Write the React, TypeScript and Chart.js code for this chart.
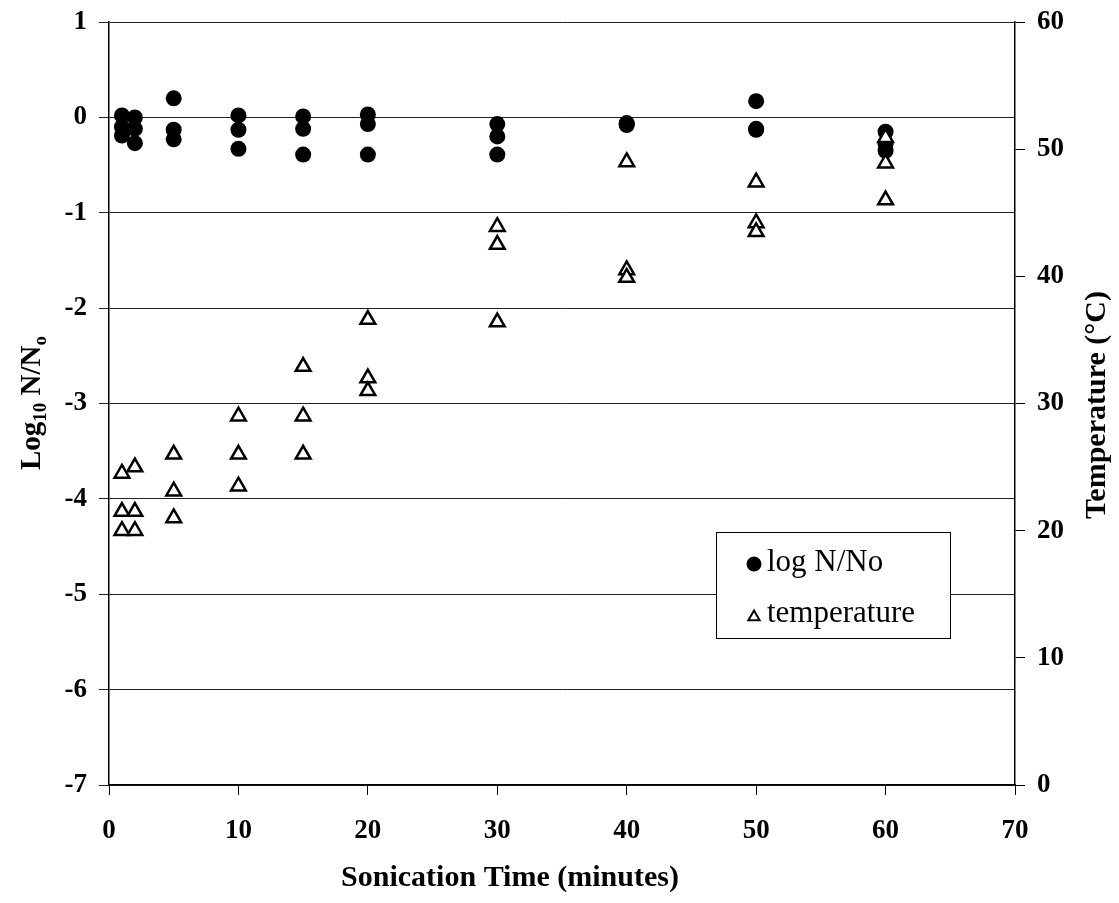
import React, { useEffect, useRef } from "react";
import { Chart, registerables } from "chart.js";

Chart.register(...registerables);

const times = [1, 2, 5, 10, 15, 20, 30, 40, 50, 60];
const logRep1 = [0.02, 0.0, 0.2, 0.02, 0.01, 0.03, -0.07, -0.06, 0.17, -0.15];
const logRep2 = [-0.1, -0.12, -0.13, -0.13, -0.12, -0.07, -0.2, -0.07, -0.12, -0.28];
const logRep3 = [-0.19, -0.27, -0.23, -0.33, -0.39, -0.39, -0.39, -0.08, -0.13, -0.35];
const tempRep1 = [24.5, 25.0, 26.0, 29.0, 32.9, 36.6, 43.9, 49.0, 47.4, 50.9];
const tempRep2 = [21.5, 21.5, 23.1, 26.0, 29.0, 32.0, 42.5, 40.5, 44.2, 48.9];
const tempRep3 = [20.0, 20.0, 21.0, 23.5, 26.0, 31.0, 36.4, 39.9, 43.5, 46.0];

const xTitle = "Sonication Time (minutes)";
const rightTitle = "Temperature (°C)";
const legendLabels = ["log N/No", "temperature"];

const SERIF = '"Liberation Serif", "Times New Roman", serif';

function pts(reps: number[][]) {
  const out: { x: number; y: number }[] = [];
  reps.forEach((r) => r.forEach((v, i) => out.push({ x: times[i], y: v })));
  return out;
}

const textPlugin = {
  id: "customText",
  afterDraw(chart: any) {
    const ctx = chart.ctx as CanvasRenderingContext2D;
    ctx.save();
    ctx.fillStyle = "#000";
    // x title
    ctx.font = `bold 30px ${SERIF}`;
    ctx.textAlign = "center";
    ctx.textBaseline = "middle";
    ctx.fillText(xTitle, 510, 878);
    // right title
    ctx.save();
    ctx.translate(1097, 405);
    ctx.rotate(-Math.PI / 2);
    ctx.fillText(rightTitle, 0, 0);
    ctx.restore();
    // left title with subscripts
    ctx.save();
    ctx.translate(30, 403);
    ctx.rotate(-Math.PI / 2);
    const big = `bold 29px ${SERIF}`;
    const small = `bold 19px ${SERIF}`;
    const parts: [string, string, number][] = [
      ["Log", big, 0],
      ["10", small, 6],
      [" N/N", big, 0],
      ["o", small, 6],
    ];
    let total = 0;
    parts.forEach(([t, f]) => {
      ctx.font = f;
      total += ctx.measureText(t).width;
    });
    let px = -total / 2;
    ctx.textAlign = "left";
    ctx.textBaseline = "alphabetic";
    parts.forEach(([t, f, dy]) => {
      ctx.font = f;
      ctx.fillText(t, px, 10 + dy);
      px += ctx.measureText(t).width;
    });
    ctx.restore();

    // legend box
    ctx.textAlign = "left";
    ctx.fillStyle = "#fff";
    ctx.fillRect(716, 532, 234, 106);
    ctx.strokeStyle = "#000";
    ctx.lineWidth = 1;
    ctx.strokeRect(716.5, 532.5, 234, 106);
    ctx.fillStyle = "#000";
    ctx.beginPath();
    ctx.arc(754, 564, 7.5, 0, Math.PI * 2);
    ctx.fill();
    ctx.font = `31px ${SERIF}`;
    ctx.textBaseline = "middle";
    ctx.fillText(legendLabels[0], 767, 563);
    // triangle marker
    ctx.lineWidth = 2;
    ctx.beginPath();
    const tx = 754, ty = 617, r = 6.5;
    ctx.moveTo(tx, ty - r);
    ctx.lineTo(tx + r * 0.866, ty + r * 0.5);
    ctx.lineTo(tx - r * 0.866, ty + r * 0.5);
    ctx.closePath();
    ctx.stroke();
    ctx.fillText(legendLabels[1], 767, 614);
    ctx.restore();
  },
};

const noPad = (s: any) => {
  s.paddingTop = 0;
  s.paddingBottom = 0;
};

export default function App() {
  const ref = useRef<HTMLCanvasElement | null>(null);
  useEffect(() => {
    if (!ref.current) return;
    const tickFont = { family: SERIF, size: 27, weight: "bold" as const };
    const chart = new Chart(ref.current, {
      type: "scatter",
      data: {
        datasets: [
          {
            label: legendLabels[1],
            data: pts([tempRep1, tempRep2, tempRep3]),
            yAxisID: "y2",
            pointStyle: "triangle",
            pointRadius: 8.5,
            pointBorderWidth: 2.5,
            pointBackgroundColor: "#fff",
            pointBorderColor: "#000",
            showLine: false,
          },
          {
            label: legendLabels[0],
            data: pts([logRep1, logRep2, logRep3]),
            yAxisID: "y",
            pointStyle: "circle",
            pointRadius: 8,
            pointBorderWidth: 0,
            pointBackgroundColor: "#000",
            pointBorderColor: "#000",
            showLine: false,
          },
        ],
      },
      options: {
        animation: false,
        responsive: false,
        maintainAspectRatio: false,
        layout: { padding: { top: 22, left: 0, right: 0, bottom: 0 } },
        plugins: { legend: { display: false }, tooltip: { enabled: false } },
        scales: {
          x: {
            type: "linear",
            position: "bottom",
            min: 0,
            max: 70,
            ticks: { stepSize: 10, color: "#000", font: tickFont, padding: 20, maxRotation: 0 },
            grid: { drawOnChartArea: false, drawTicks: true, tickLength: 10, color: "#000", lineWidth: 1 },
            border: { color: "#000", width: 1.5 },
            afterFit: (s: any) => {
              s.height = 118;
              s.paddingLeft = 0;
              s.paddingRight = 0;
            },
          },
          y: {
            type: "linear",
            position: "left",
            min: -7,
            max: 1,
            ticks: { stepSize: 1, color: "#000", font: tickFont, padding: 12 },
            grid: { color: "#222", lineWidth: 1, tickLength: 10 },
            border: { color: "#000", width: 1.5 },
            afterFit: (s: any) => {
              s.width = 109;
              noPad(s);
            },
          },
          y2: {
            type: "linear",
            position: "right",
            min: 0,
            max: 60,
            ticks: { stepSize: 10, color: "#000", font: tickFont, padding: 12 },
            grid: { drawOnChartArea: false, tickLength: 10, color: "#000", lineWidth: 1 },
            border: { color: "#000", width: 1.5 },
            afterFit: (s: any) => {
              s.width = 104;
              noPad(s);
            },
          },
        },
      },
      plugins: [textPlugin],
    });
    return () => chart.destroy();
  }, []);
  return (
    <div style={{ position: "absolute", left: 0, top: 0, width: 1119, height: 903, background: "#fff" }}>
      <canvas ref={ref} width={1119} height={903} style={{ width: 1119, height: 903 }} />
    </div>
  );
}
